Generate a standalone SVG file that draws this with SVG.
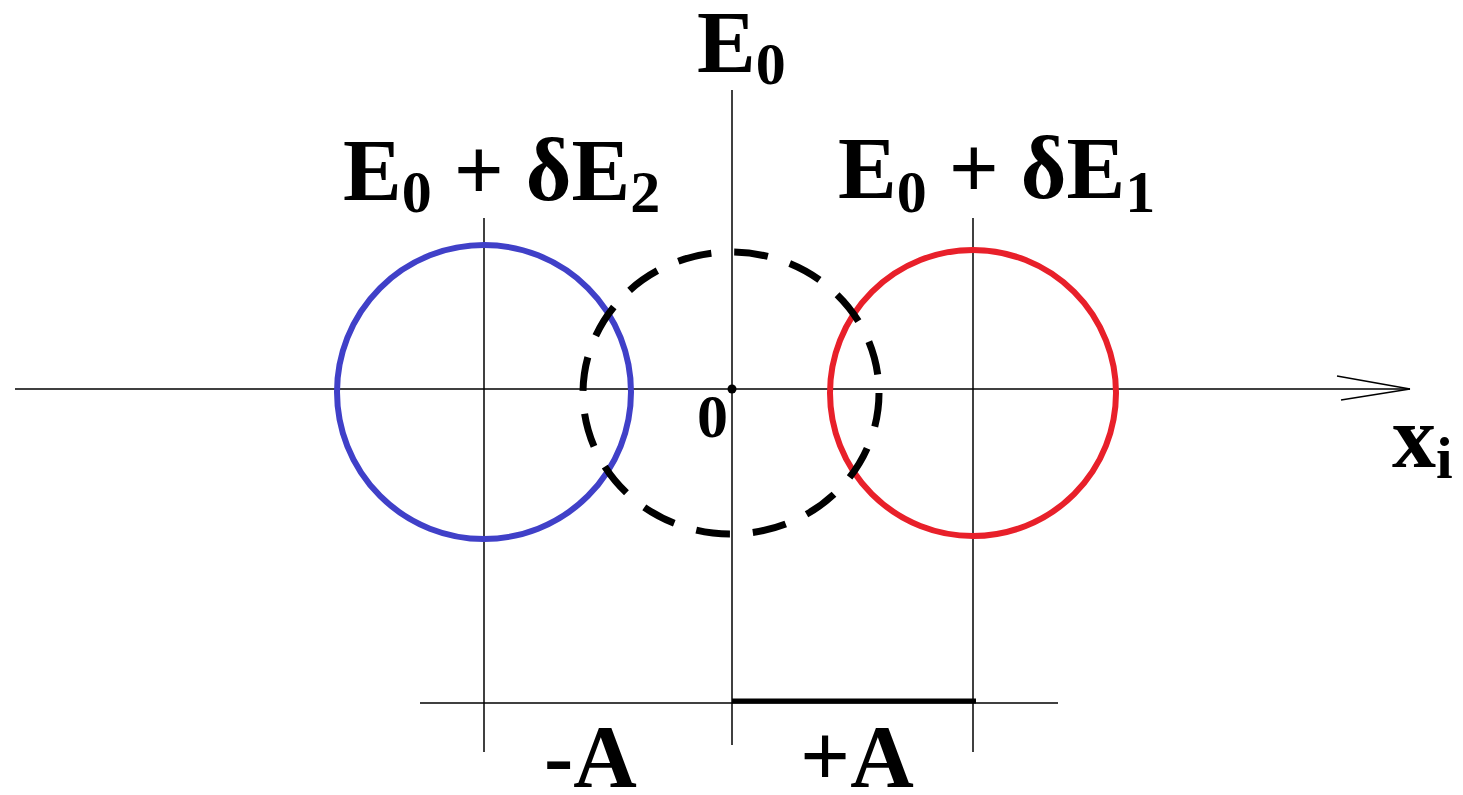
<svg xmlns="http://www.w3.org/2000/svg" width="1463" height="795" viewBox="0 0 1463 795">
<style>
.ax{stroke:#000;stroke-width:1.5;fill:none}
.t{font-family:"Liberation Serif","Times New Roman",serif;font-weight:bold;font-size:88px;fill:#000}
.s{font-size:60px}
</style>
<rect width="1463" height="795" fill="#fff"/>
<g id="axes">
<line class="ax" x1="15" y1="389" x2="1410" y2="389"/>
<line class="ax" x1="1337" y1="376" x2="1410" y2="389"/>
<line class="ax" x1="1341" y1="400" x2="1410" y2="389"/>
<line class="ax" x1="732" y1="90" x2="732" y2="745"/>
<line class="ax" x1="484" y1="218" x2="484" y2="752"/>
<line class="ax" x1="973" y1="218" x2="973" y2="752"/>
<line class="ax" x1="420" y1="703" x2="1058" y2="703"/>
<line x1="732" y1="701" x2="976" y2="701" stroke="#000" stroke-width="5"/>
<circle cx="732" cy="389" r="4.5" fill="#000"/>
</g>
<g id="blue-circle"><circle cx="484" cy="392" r="147" fill="none" stroke="#4040c8" stroke-width="6"/></g>
<g id="red-circle"><circle cx="973" cy="393" r="143" fill="none" stroke="#e8202a" stroke-width="6"/></g>
<g id="dashed-circle"><ellipse cx="731" cy="393" rx="148" ry="141" fill="none" stroke="#000" stroke-width="7" stroke-dasharray="34 23"/></g>
<g id="labels">
<text class="t" x="697" y="72">E<tspan class="s" dy="12">0</tspan></text>
<text class="t" x="343" y="200">E<tspan class="s" dy="12">0</tspan><tspan dy="-12"> + δE</tspan><tspan class="s" dy="12">2</tspan></text>
<text class="t" x="838" y="198">E<tspan class="s" dy="14">0</tspan><tspan dy="-14"> + δE</tspan><tspan class="s" dy="14">1</tspan></text>
<text class="t" x="1392" y="467">x<tspan class="s" dy="11">i</tspan></text>
<text class="t" x="697" y="437" style="font-size:62px">0</text>
<text class="t" x="544" y="786">-A</text>
<text class="t" x="800" y="786">+A</text>
</g>
</svg>
